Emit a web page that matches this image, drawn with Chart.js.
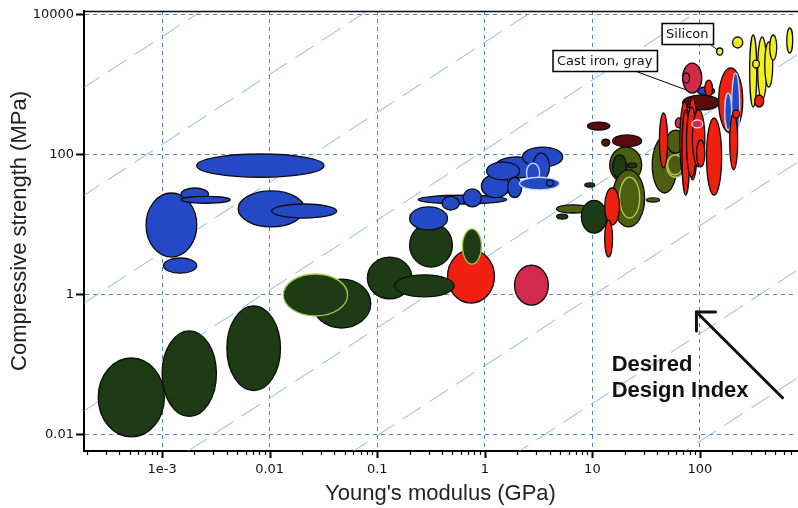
<!DOCTYPE html>
<html><head><meta charset="utf-8">
<script src="https://cdn.jsdelivr.net/npm/chart.js@4/dist/chart.umd.min.js"></script>
<style>html,body{margin:0;padding:0;background:#fff;}canvas{display:block;}</style>
</head><body>
<canvas id="c" width="798" height="508"></canvas>
<script>
// ---------------- DATA ----------------
// Each material bubble: range of Young's modulus (GPa) and compressive strength (MPa)
const materialIds = ['B1','B2','B3','B4','B5','B6','B7','G1','G2','G3','G4','G5','G6','G7','B8','R1','G8','G9','R2',
 'B9','B10','B11','B12','B13b','B13','B14','B15','B18','B17','B16','B19',
 'O5','G13','D1','D2','D3','O1','G10','G11','O2','O3','O4','G12','G14','R3','R4',
 'O6','O9','O10','O7','R5','C1','C2','B20','R6','D4','C3','C4','R8','R17','R18','R9','R10','P1','R16','R11','R12','B21','B22','R13','R14',
 'Y3','Y4','Y5','Y6','Y7','Y8','Y2','Silicon','R15'];
const family = ['blue','blue','blue','blue','blue','blue','blue','dgreen','dgreen','dgreen','dgreen','dgreen','dgreen','dgreen','blue','red','dgreen','dgreen','crimson',
 'blue','blue','blue','blue','blue','blue','blue','blue','blue','blue','blue','blue',
 'olive','dgreen','maroon','maroon','maroon','olive','dgreen','dgreen','olive','olive','olive','dgreen','dgreen','red','red',
 'olive','olive','olive','olive','red','crimson','crimson','blue','red','maroon','crimson','crimson','red','red','red','red','red','crimson','red','red','red','blue','blue','red','red',
 'yellow','yellow','yellow','yellow','yellow','yellow','yellow','yellow','red'];
const eMin = [0.0021,7.1e-4,0.0015,0.0015,0.0051,0.0104,0.00103,2.55e-4,0.0010,0.0040,0.025,0.0134,0.081,0.20,0.20,0.45,0.145,0.62,1.89,
 0.24,0.40,0.63,0.93,1.23,1.04,1.63,2.24,2.8,2.44,2.1,3.75,
 4.65,4.65,9.0,12.2,15.4,14.5,15.4,21.3,15.4,17.9,31.9,8.5,7.9,13.0,13.0,
 36,49,49,50,42,69,69,95,111,69,59,69,65,68,77,75,85,84,93,115,149,170,197,189,201,
 290,344,400,445,641,309,201,143,323];
const eMax = [0.032,0.0021,0.0027,0.0043,0.021,0.042,0.0021,0.00105,0.0032,0.0126,0.087,0.053,0.21,0.50,0.45,1.23,0.52,0.93,3.9,
 1.6,0.58,0.93,1.7,3.2,2.1,2.2,5.3,4.0,3.23,4.95,4.36,
 9.4,5.9,14.5,14.5,28.7,28.7,20.8,25.8,30.6,27.5,42,10.5,13.6,17.9,15.4,
 61,72,72,69,50,104,80,137,131,153,69,77,80,80,95,93,111,106,111,159,250,197,234,224,234,
 337,417,475,517,728,357,250,163,391];
const sMin = [47,3.4,22,20,9.2,12.3,2.0,0.0092,0.018,0.042,0.33,0.49,0.86,2.45,8.3,0.75,0.92,2.7,0.70,
 19.5,16,17.7,24,46,43,24,66,43,39,31,35,
 14.5,11.9,222,131,127,39,46,64,9.2,12.3,20.8,34,7.5,9.8,3.4,
 28,104,47,51,64,750,1040,700,660,430,238,289,43,26,43,47,66,238,66,26,200,222,160,60,330,
 474,597,915,2220,2800,1710,3300,2620,474];
const sMax = [101,28,33,25,30,19.5,3.3,0.123,0.30,0.68,1.65,1.95,3.4,10.4,17.7,4.3,1.9,8.6,2.6,
 26,25,32,51,92,78,47,127,104,75,47,43,
 19,14,289,165,189,127,98,75,60,47,23.8,39,22,33,11.5,
 177,222,98,98,389,2010,1450,915,1150,700,330,364,560,430,640,474,430,309,160,330,1710,750,1450,389,429,
 5060,4740,4020,5060,6370,2220,4740,3300,703];
// Design guide lines: sigma / E ratios (MPa per GPa)
const guideRatios = [4.79e6,1.38e5,3.98e3,115,3.31,0.0955,2.75e-3,7.94e-5];
// Axis ticks
const xTickValues = [1e-3,0.01,0.1,1,10,100];
const xTickLabels = ['1e-3','0.01','0.1','1','10','100'];
const yTickValues = [0.01,1,100,10000];
const yTickLabels = ['0.01','1','100','10000'];
const xTitle = "Young's modulus (GPa)";
const yTitle = 'Compressive strength (MPa)';
const xRange = [1.88e-4, 798];
const yRange = [0.00577, 11150];
// Callouts
const callouts = [
  {text:'Cast iron, gray', boxE:4.26, boxS:3090, fromE:26.3, fromS:1500, toE:74.9, toS:829},
  {text:'Silicon', boxE:44, boxS:7510, fromE:120.5, fromS:3890, toE:145.5, toS:3090}
];
const noteLines = ['Desired', 'Design Index'];
const notePos = {e:15.1, s1:0.080, s2:0.034};
const arrowPos = {tailE:585, tailS:0.0332, headE:92.7, headS:0.559};

// ---------------- STYLE ----------------
const famFill = {blue:'#2449c6', dgreen:'#1d3c15', olive:'#4e5e10', red:'#ef2010', crimson:'#d22a4a', maroon:'#5a0b0d', yellow:'#f2f01c'};
const lightEdge = {G5:'#a8c850', G9:'#a8c850', O3:'#b8c860', O10:'#b8c860', O7:'#b8c860', B16:'#c8dcff', B17:'#c8dcff', B21:'#c8dcff', B22:'#c8dcff', P1:'#f0d8e0'};
const gridColor = '#4f86c6';
const guideColor = 'rgba(110,165,222,0.8)';

function isDecade(v){ if(!(v>0)) return false; const l=Math.log10(v); return Math.abs(l-Math.round(l))<1e-6; }
function labelFor(v, vals, labs){ const i=vals.findIndex(t=>Math.abs(t-v)/t<1e-6); return i>=0?labs[i]:''; }

const xAllTicks = [];
for (let p=-4;p<=2;p++) for (let m=1;m<=9;m++){ const v=m*Math.pow(10,p); if(v>=xRange[0]&&v<=xRange[1]) xAllTicks.push(v); }

const ellipsePlugin = {
  id:'ellipses',
  afterDatasetsDraw(chart){
    const {ctx, chartArea:a, scales:{x,y}} = chart;
    ctx.save();
    ctx.beginPath(); ctx.rect(a.left,a.top,a.right-a.left,a.bottom-a.top); ctx.clip();
    for (let i=0;i<materialIds.length;i++){
      const x1=x.getPixelForValue(eMin[i]), x2=x.getPixelForValue(eMax[i]);
      const y1=y.getPixelForValue(sMax[i]), y2=y.getPixelForValue(sMin[i]);
      const cx=(x1+x2)/2, cy=(y1+y2)/2, rx=Math.max(1,(x2-x1)/2), ry=Math.max(1,(y2-y1)/2);
      ctx.beginPath(); ctx.ellipse(cx,cy,rx,ry,0,0,Math.PI*2);
      ctx.fillStyle=famFill[family[i]]; ctx.fill();
      ctx.lineWidth=1.3; ctx.strokeStyle=lightEdge[materialIds[i]]||'#0c0c0c'; ctx.stroke();
    }
    ctx.restore();
  }
};

const decorPlugin = {
  id:'decor',
  afterDraw(chart){
    const {ctx, chartArea:a, scales:{x,y}} = chart;
    ctx.save();
    ctx.strokeStyle='#000';
    ctx.lineWidth=1.5; ctx.beginPath(); ctx.moveTo(a.left,a.top+0.5); ctx.lineTo(a.right+1,a.top+0.5); ctx.stroke();
    x.ticks.forEach(t=>{ const px=Math.round(x.getPixelForValue(t.value))+0.5; const maj=isDecade(t.value);
      ctx.lineWidth=maj?2:1.2; ctx.beginPath(); ctx.moveTo(px,a.bottom); ctx.lineTo(px,a.bottom+(maj?7:4)); ctx.stroke(); });
    y.ticks.forEach(t=>{ const py=Math.round(y.getPixelForValue(t.value))+0.5;
      ctx.lineWidth=2; ctx.beginPath(); ctx.moveTo(a.left-8,py); ctx.lineTo(a.left,py); ctx.stroke(); });
    ctx.font='13px "DejaVu Sans"';
    callouts.forEach(c=>{
      const bx=x.getPixelForValue(c.boxE), by=y.getPixelForValue(c.boxS);
      const w=ctx.measureText(c.text).width+9, h=21;
      ctx.lineWidth=1; ctx.strokeStyle='#000';
      ctx.beginPath(); ctx.moveTo(x.getPixelForValue(c.fromE),y.getPixelForValue(c.fromS)); ctx.lineTo(x.getPixelForValue(c.toE),y.getPixelForValue(c.toS)); ctx.stroke();
      ctx.fillStyle='#fff'; ctx.fillRect(bx,by,w,h);
      ctx.lineWidth=1.5; ctx.strokeRect(bx+0.5,by+0.5,w,h);
      ctx.fillStyle='#111'; ctx.textBaseline='middle'; ctx.textAlign='left';
      ctx.fillText(c.text,bx+4.5,by+h/2+1);
    });
    ctx.font='bold 22px "Liberation Sans"'; ctx.fillStyle='#111'; ctx.textBaseline='alphabetic'; ctx.textAlign='left';
    const nx=x.getPixelForValue(notePos.e);
    ctx.fillText(noteLines[0], nx, y.getPixelForValue(notePos.s1));
    ctx.fillText(noteLines[1], nx, y.getPixelForValue(notePos.s2));
    const tx=x.getPixelForValue(arrowPos.tailE), ty=y.getPixelForValue(arrowPos.tailS);
    const hx=x.getPixelForValue(arrowPos.headE), hy=y.getPixelForValue(arrowPos.headS);
    const ang=Math.atan2(ty-hy,tx-hx), L=19;
    ctx.lineWidth=3; ctx.lineCap='round'; ctx.strokeStyle='#111';
    ctx.beginPath(); ctx.moveTo(tx,ty); ctx.lineTo(hx,hy); ctx.stroke();
    ctx.beginPath();
    ctx.moveTo(hx+L*Math.cos(ang-Math.PI/4),hy+L*Math.sin(ang-Math.PI/4)); ctx.lineTo(hx,hy);
    ctx.lineTo(hx+L*Math.cos(ang+Math.PI/4),hy+L*Math.sin(ang+Math.PI/4)); ctx.stroke();
    ctx.restore();
  }
};

const datasets = guideRatios.map(k=>({
  type:'scatter', showLine:true, data:[{x:1e-6,y:k*1e-6},{x:1e4,y:k*1e4}],
  borderColor:guideColor, borderWidth:1, borderDash:[22,10], pointRadius:0, fill:false
}));
datasets.push({type:'scatter', data:materialIds.map((id,i)=>({x:Math.sqrt(eMin[i]*eMax[i]), y:Math.sqrt(sMin[i]*sMax[i])})), pointRadius:0, showLine:false});

new Chart(document.getElementById('c'), {
  type:'scatter',
  data:{datasets},
  options:{
    responsive:false, animation:false, events:[],
    layout:{padding:{left:0,top:11,right:1,bottom:0}},
    plugins:{legend:{display:false}, tooltip:{enabled:false}},
    scales:{
      x:{type:'logarithmic', min:xRange[0], max:xRange[1],
        afterBuildTicks(s){ s.ticks = xAllTicks.map(v=>({value:v})); },
        afterFit(s){ s.height=57; },
        ticks:{autoSkip:false, maxRotation:0, minRotation:0, padding:4, color:'#111', font:{family:'DejaVu Sans', size:13},
          callback(v){ return labelFor(v,xTickValues,xTickLabels); }},
        grid:{color:(c)=>isDecade(c.tick&&c.tick.value)?gridColor:'rgba(0,0,0,0)', lineWidth:1, drawTicks:true, tickLength:7, tickColor:'rgba(0,0,0,0)'},
        border:{display:true, color:'#000', width:2, dash:[4,4]},
        title:{display:true, text:xTitle, color:'#222', font:{family:'Liberation Sans', size:22}, padding:{top:0,bottom:1}}
      },
      y:{type:'logarithmic', min:yRange[0], max:yRange[1],
        afterBuildTicks(s){ s.ticks = yTickValues.map(v=>({value:v})); },
        afterFit(s){ s.width=84; },
        ticks:{autoSkip:false, padding:2, color:'#111', font:{family:'DejaVu Sans', size:13},
          callback(v){ return labelFor(v,yTickValues,yTickLabels); }},
        grid:{color:gridColor, lineWidth:1, drawTicks:true, tickLength:8, tickColor:'rgba(0,0,0,0)'},
        border:{display:true, color:'#000', width:2, dash:[4,4]},
        title:{display:true, text:yTitle, color:'#222', font:{family:'Liberation Sans', size:22}, padding:{top:7,bottom:0}}
      }
    }
  },
  plugins:[ellipsePlugin, decorPlugin]
});
</script>
</body></html>
